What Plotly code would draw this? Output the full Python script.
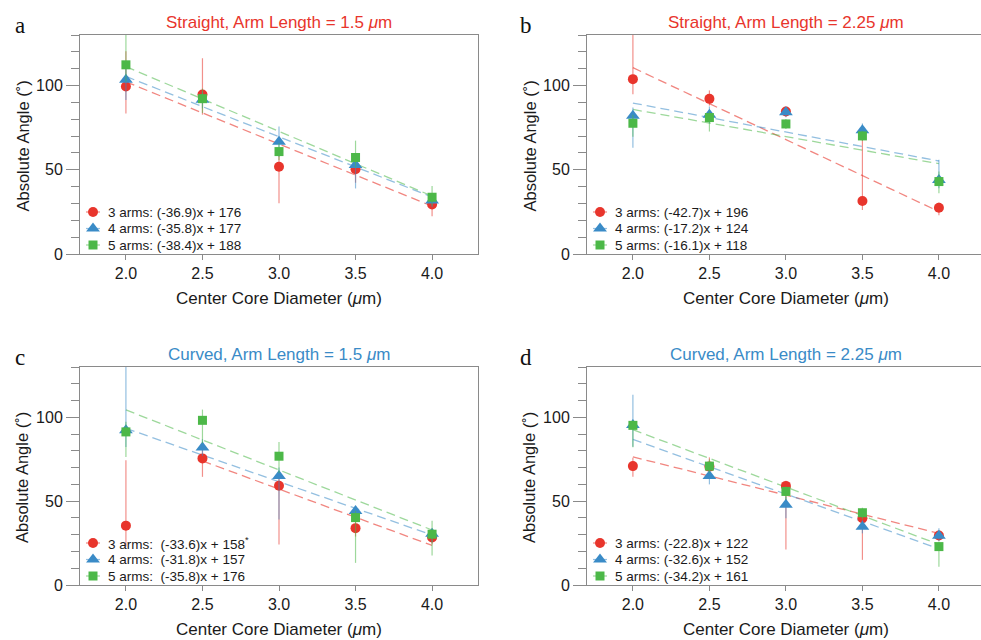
import plotly.graph_objects as go

# ---------------- data ----------------
x_vals = [2.0, 2.5, 3.0, 3.5, 4.0]
series_names = ["3 arms", "4 arms", "5 arms"]

# panel a : Straight, Arm Length = 1.5 um
a_y = [[99.4, 94.7, 51.8, 50.3, 29.4],
       [103.4, 91.5, 66.7, 52.9, 31.7],
       [112.3, 92.2, 60.8, 57.3, 33.7]]
a_plus = [[21, 21.5, 10, 5, 5], [10, 5, 9, 5, 4], [22, 6, 5, 10, 6.7]]
a_minus = [[16, 12, 21.7, 8, 7], [12, 5, 9, 14, 4], [10, 8.5, 5, 6, 5]]
a_slope = [-36.9, -35.8, -38.4]
a_icpt = [176, 177, 188]
a_fitstart = [2.0, 2.0, 2.0]

# panel b : Straight, Arm Length = 2.25 um
b_y = [[103.8, 92.1, 84.6, 31.5, 27.5],
       [82.0, 82.6, 84.2, 73.5, 44.0],
       [77.6, 81.0, 77.2, 70.1, 43.0]]
b_plus = [[32, 5, 3, 40, 3], [5, 5, 3, 4, 12], [5, 4, 3, 3, 6]]
b_minus = [[9, 4, 3, 5.4, 4.5], [19, 5, 3, 4, 5], [8, 8.3, 3, 3, 7]]
b_slope = [-42.7, -17.2, -16.1]
b_icpt = [196, 124, 118]
b_fitstart = [2.0, 2.0, 2.0]

# panel c : Curved, Arm Length = 1.5 um
c_y = [[35.4, 75.5, 59.2, 33.9, 28.3],
       [92.3, 82.0, 65.0, 44.1, 30.5],
       [91.3, 98.2, 76.8, 40.2, 30.3]]
c_plus = [[39, 5, 5, 5, 3], [43, 5, 5, 3, 3], [6, 6.4, 8.5, 4, 8]]
c_minus = [[12.5, 11, 35, 5, 4], [10, 5, 26, 5, 5], [15, 13.7, 10, 27, 12.7]]
c_slope = [-33.6, -31.8, -35.8]
c_icpt = [158, 157, 176]
c_fitstart = [2.5, 2.0, 2.0]

# panel d : Curved, Arm Length = 2.25 um
d_y = [[70.9, 70.6, 59.1, 39.8, 29.5],
       [95.4, 65.0, 47.8, 34.8, 29.3],
       [95.2, 70.9, 55.8, 43.1, 22.9]]
d_plus = [[5, 5.5, 3, 3, 2], [18, 3, 5, 4, 4.6], [3, 4, 3, 3, 3]]
d_minus = [[6.4, 5, 38, 24.8, 3], [13, 5, 8, 4, 3], [13, 4, 5, 4, 12]]
d_slope = [-22.8, -32.6, -34.2]
d_icpt = [122, 152, 161]
d_fitstart = [2.0, 2.0, 2.0]

panel_titles = ["Straight, Arm Length = 1.5 <i>μ</i>m",
                "Straight, Arm Length = 2.25 <i>μ</i>m",
                "Curved, Arm Length = 1.5 <i>μ</i>m",
                "Curved, Arm Length = 2.25 <i>μ</i>m"]
panel_letters = ["a", "b", "c", "d"]
label_sep = [": ", ": ", ":\u00a0\u00a0", ": "]
label_suffix = [["", "", ""], ["", "", ""], ["<sup>*</sup>", "", ""], ["", "", ""]]

# ---------------- style ----------------
W, H = 981, 640
RED, BLUE, GREEN = "#e8352c", "#3a8bc7", "#4cb848"
colors = [RED, BLUE, GREEN]
fit_colors = ["rgba(232,53,44,0.6)", "rgba(58,139,199,0.55)", "rgba(76,184,72,0.55)"]
err_colors = ["rgba(232,53,44,0.55)", "rgba(58,139,199,0.55)", "rgba(76,184,72,0.55)"]
symbols = ["circle", "triangle-up", "square"]
msizes = [10, 12, 9]
title_colors = [RED, RED, BLUE, BLUE]
FONT = "Liberation Sans, Arial, Helvetica, sans-serif"
AXC = "#8a8a8a"
TXT = "#1a1a1a"

# pixel geometry of plot areas: (left, right, top, bottom)
boxes = [(80, 478, 35, 254), (587, 981, 35, 254),
         (80, 478, 367, 585), (587, 981, 367, 585)]
xranges = [[1.7, 4.3], [1.7, 4.275], [1.7, 4.3], [1.7, 4.275]]
yrange = [0, 130]
leg_rows = [42, 25.5, 9]        # px above plot bottom
leg_marker_dx, leg_text_dx = 13, 26

panels = [
    (a_y, a_plus, a_minus, a_slope, a_icpt, a_fitstart),
    (b_y, b_plus, b_minus, b_slope, b_icpt, b_fitstart),
    (c_y, c_plus, c_minus, c_slope, c_icpt, c_fitstart),
    (d_y, d_plus, d_minus, d_slope, d_icpt, d_fitstart),
]

fig = go.Figure()
layout = dict(width=W, height=H, margin=dict(l=0, r=0, t=0, b=0, pad=0),
              template="none", paper_bgcolor="white", plot_bgcolor="white",
              font=dict(family=FONT, color=TXT), showlegend=False)
annotations = []


def ann(text, xp, yp, size, color, family=FONT, angle=0, xanchor="center", yanchor="middle"):
    annotations.append(dict(text=text, x=xp / W, y=1 - yp / H, xref="paper", yref="paper",
                            xanchor=xanchor, yanchor=yanchor, showarrow=False, textangle=angle,
                            font=dict(size=size, color=color, family=family)))


for p, (ys, pl, mi, sl, ic, fs) in enumerate(panels):
    k = "" if p == 0 else str(p + 1)
    xa, ya = "x" + k, "y" + k
    L, R, T, B = boxes[p]
    xr = xranges[p]
    layout["xaxis" + k] = dict(
        domain=[L / W, R / W], range=xr, anchor=ya, automargin=False,
        tickvals=x_vals, tickformat=".1f", ticks="outside", ticklen=5, tickwidth=1,
        tickcolor=AXC, showline=True, linecolor=AXC, linewidth=1, mirror=True,
        showgrid=False, zeroline=False, tickfont=dict(size=16, color=TXT, family=FONT))
    layout["yaxis" + k] = dict(
        domain=[1 - B / H, 1 - T / H], range=yrange, anchor=xa, automargin=False,
        tickvals=[0, 50, 100], ticks="outside", ticklen=13, tickwidth=1, tickcolor=AXC,
        minor=dict(dtick=10, tick0=0, ticks="outside", ticklen=8, tickwidth=1, tickcolor=AXC),
        showline=True, linecolor=AXC, linewidth=1, mirror=True,
        showgrid=False, zeroline=False, tickfont=dict(size=16, color=TXT, family=FONT))
    # fit lines
    for s in range(3):
        x0, x1 = fs[s], 4.0
        fig.add_trace(go.Scatter(
            x=[x0, x1], y=[sl[s] * x0 + ic[s], sl[s] * x1 + ic[s]],
            xaxis=xa, yaxis=ya, mode="lines", hoverinfo="skip",
            line=dict(color=fit_colors[s], width=1.3, dash="9px,5px")))
    # data points with error bars
    for s in range(3):
        fig.add_trace(go.Scatter(
            x=x_vals, y=ys[s], xaxis=xa, yaxis=ya, mode="markers", cliponaxis=False,
            name=series_names[s],
            marker=dict(symbol=symbols[s], size=msizes[s], color=colors[s]),
            error_y=dict(type="data", symmetric=False, array=pl[s], arrayminus=mi[s],
                         color=err_colors[s], thickness=1.2, width=0)))
    # legend (drawn inside the plot, bottom-left)
    pxu = (R - L) / (xr[1] - xr[0])
    pyu = (B - T) / (yrange[1] - yrange[0])
    mx = xr[0] + leg_marker_dx / pxu
    for s in range(3):
        my = yrange[0] + leg_rows[s] / pyu
        fig.add_trace(go.Scatter(
            x=[mx - 7 / pxu, mx + 7 / pxu], y=[my, my], xaxis=xa, yaxis=ya, mode="lines",
            hoverinfo="skip", line=dict(color=fit_colors[s], width=1.2)))
        fig.add_trace(go.Scatter(
            x=[mx], y=[my], xaxis=xa, yaxis=ya, mode="markers", hoverinfo="skip",
            marker=dict(symbol=symbols[s], size=msizes[s], color=colors[s])))
        name = f"{series_names[s]}{label_sep[p]}({sl[s]})x + {ic[s]}" + label_suffix[p][s]
        ann(name, L + leg_text_dx, B - leg_rows[s], 13.5, TXT, xanchor="left")
    # text annotations
    cx = (L + (R if R < W else 985)) / 2
    ann(panel_titles[p], cx, T - 13, 17, title_colors[p])
    ann(panel_letters[p], L - 60 + (0 if p % 2 == 0 else -1), T - 10, 23, "#111",
        family="Liberation Serif, Times New Roman, serif")
    ann("Absolute Angle (˚)", L - 58, (T + B) / 2 + 2, 16.5, TXT, angle=-90)
    ann("Center Core Diameter (<i>μ</i>m)", cx, B + 44, 17, TXT)

layout["annotations"] = annotations
fig.update_layout(**layout)
fig.write_html("out.html")
